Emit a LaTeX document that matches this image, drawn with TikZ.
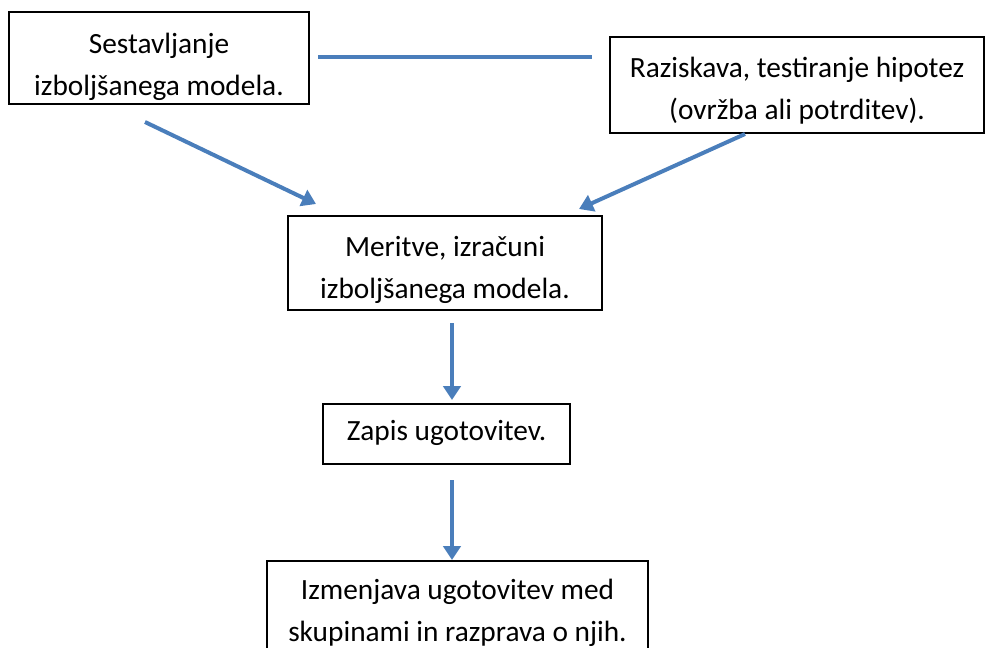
\documentclass[tikz,border=0pt]{standalone}
\usepackage{fontspec}
\setmainfont{Carlito}
\usetikzlibrary{arrows.meta}
\definecolor{arrblue}{HTML}{4A7EBB}
\tikzset{
  frame/.style={draw=black, line width=0.9pt, inner sep=0pt},
  txt/.style={align=center, inner sep=0pt, anchor=base,
    font=\fontsize{22}{31.8}\selectfont},
  link/.style={draw=arrblue, line width=3pt},
  arr/.style={link, -{Triangle[length=10.5pt,width=13pt]}}
}
\begin{document}
\begin{tikzpicture}[x=0.75pt,y=-0.75pt]
\useasboundingbox (0,0) rectangle (986,647);
\begin{scope}
\clip (0,0) rectangle (986,647);
\node[frame, minimum width=300*0.75pt, minimum height=92*0.75pt] (b1) at (159,58) {};
\node[frame, minimum width=374*0.75pt, minimum height=96*0.75pt] (b2) at (797,85) {};
\node[frame, minimum width=314*0.75pt, minimum height=94*0.75pt] (b3) at (445,263) {};
\node[frame, minimum width=247*0.75pt, minimum height=60*0.75pt] (b4) at (446.5,434) {};
\node[frame, minimum width=381*0.75pt, minimum height=96*0.75pt] (b5) at (457.5,609) {};
\node[txt] (t1) at ([yshift=-84*0.75pt]b1.north) {Sestavljanje\\izboljšanega modela.};
\node[txt] (t2) at ([yshift=-83*0.75pt]b2.north) {Raziskava, testiranje hipotez\\(ovržba ali potrditev).};
\node[txt] (t3) at ([yshift=-83*0.75pt]b3.north) {Meritve, izračuni\\izboljšanega modela.};
\node[txt] (t4) at ([yshift=-37*0.75pt]b4.north) {Zapis ugotovitev.};
\node[txt] (t5) at ([yshift=-81*0.75pt]b5.north) {Izmenjava ugotovitev med\\skupinami in razprava o njih.};
\end{scope}
\coordinate (h1) at (318,57);
\coordinate (h2) at (592,57);
\coordinate (a1s) at (145,122);
\coordinate (a1e) at (316,204);
\coordinate (a2s) at (745,134);
\coordinate (a2e) at (579,209);
\coordinate (a3s) at (452,323);
\coordinate (a3e) at (452,400);
\coordinate (a4s) at (452,480);
\coordinate (a4e) at (452,560);
\draw[link] (h1) -- (h2);
\draw[arr] (a1s) -- (a1e);
\draw[arr] (a2s) -- (a2e);
\draw[arr] (a3s) -- (a3e);
\draw[arr] (a4s) -- (a4e);
\end{tikzpicture}
\end{document}
